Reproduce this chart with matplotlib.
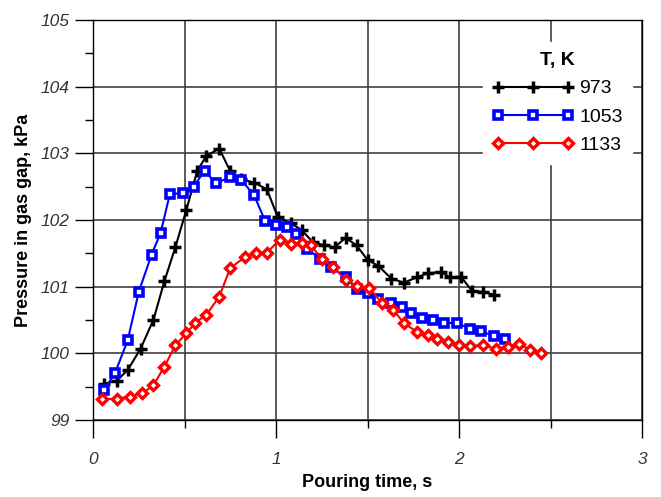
import matplotlib
matplotlib.use('Agg')
import matplotlib.pyplot as plt
import numpy as np

# time, s / pressure, kPa
t_973 = [0.06, 0.13, 0.19, 0.26, 0.33, 0.39, 0.45, 0.51, 0.57, 0.62, 0.69, 0.75,
         0.81, 0.88, 0.95, 1.01, 1.08, 1.14, 1.20, 1.26, 1.32, 1.38, 1.44, 1.50,
         1.56, 1.63, 1.70, 1.77, 1.83, 1.90, 1.95, 2.01, 2.07, 2.13, 2.19]
p_973 = [99.54, 99.59, 99.75, 100.07, 100.50, 101.08, 101.59, 102.15, 102.74, 102.96,
         103.07, 102.73, 102.61, 102.56, 102.46, 102.04, 101.95, 101.85, 101.67, 101.62,
         101.59, 101.73, 101.62, 101.40, 101.31, 101.12, 101.06, 101.14, 101.20, 101.22,
         101.14, 101.15, 100.94, 100.92, 100.88]

t_1053 = [0.06, 0.12, 0.19, 0.25, 0.32, 0.37, 0.42, 0.49, 0.55, 0.61, 0.67, 0.75,
          0.81, 0.88, 0.94, 1.00, 1.06, 1.11, 1.17, 1.24, 1.30, 1.38, 1.44, 1.50,
          1.56, 1.63, 1.69, 1.74, 1.80, 1.86, 1.92, 1.99, 2.06, 2.12, 2.19, 2.25]
p_1053 = [99.45, 99.70, 100.20, 100.92, 101.48, 101.81, 102.39, 102.40, 102.50, 102.74,
          102.55, 102.64, 102.60, 102.37, 101.99, 101.93, 101.90, 101.79, 101.57, 101.42,
          101.29, 101.15, 100.97, 100.91, 100.81, 100.76, 100.70, 100.61, 100.53, 100.50,
          100.46, 100.45, 100.37, 100.33, 100.26, 100.22]

t_1133 = [0.05, 0.13, 0.20, 0.27, 0.33, 0.39, 0.45, 0.51, 0.56, 0.62, 0.69, 0.75,
          0.83, 0.89, 0.95, 1.02, 1.08, 1.14, 1.19, 1.25, 1.31, 1.38, 1.44, 1.51,
          1.58, 1.64, 1.70, 1.77, 1.83, 1.88, 1.94, 2.00, 2.06, 2.13, 2.20, 2.27,
          2.33, 2.39, 2.45]
p_1133 = [99.31, 99.32, 99.35, 99.40, 99.52, 99.80, 100.12, 100.30, 100.46, 100.58,
          100.85, 101.28, 101.44, 101.50, 101.51, 101.70, 101.64, 101.65, 101.62, 101.42,
          101.30, 101.10, 101.01, 100.98, 100.75, 100.65, 100.45, 100.32, 100.27, 100.22,
          100.17, 100.12, 100.11, 100.12, 100.07, 100.10, 100.14, 100.05, 100.00]

x_ticks = [0, 1, 2, 3]
y_ticks = [99, 100, 101, 102, 103, 104, 105]

plt.rcParams['font.family'] = ['Liberation Sans', 'DejaVu Sans']

fig = plt.figure(figsize=(6.61, 4.97), dpi=100)
ax = fig.add_axes([0.1407, 0.155, 0.8306, 0.805])

ax.plot(t_973, p_973, '-', color='black', lw=1.5, marker='+', ms=8.5, mew=2.5,
        label='973', zorder=3)
ax.plot(t_1053, p_1053, '-', color='#0000ff', lw=1.5, marker='s', ms=6.3, mew=2.6,
        mfc='white', mec='#0000ff', label='1053', zorder=4)
ax.plot(t_1133, p_1133, '-', color='#ff0000', lw=1.5, marker='D', ms=4.8, mew=2.4,
        mfc='white', mec='#ff0000', label='1133', zorder=5)

ax.set_xlim(0, 3)
ax.set_ylim(99, 105)
ax.set_xticks(x_ticks)
ax.set_xticks(np.arange(0, 3.01, 0.5), minor=True)
ax.set_yticks(y_ticks)
ax.set_yticks(np.arange(99, 105.01, 0.5), minor=True)
ax.set_xticklabels([str(v) for v in x_ticks], fontstyle='italic', fontsize=12.5, color='#333333')
ax.set_yticklabels([str(v) for v in y_ticks], fontstyle='italic', fontsize=12.5, color='#333333')
ax.tick_params(which='major', direction='out', length=13, width=1)
ax.tick_params(which='minor', direction='out', length=6, width=1)
ax.tick_params(axis='x', which='major', pad=10)
ax.tick_params(axis='y', which='major', pad=4)

ax.grid(True, axis='x', which='both', color='#404040', lw=1.2)
ax.grid(True, axis='y', which='major', color='#404040', lw=1.2)
ax.set_axisbelow(True)
for s in ax.spines.values():
    s.set_color('black')
    s.set_linewidth(1)

ax.set_xlabel('Pouring time, s', fontsize=13, fontweight='bold', labelpad=5)
ax.set_ylabel('Pressure in gas gap, kPa', fontsize=13, fontweight='bold', labelpad=6)

leg = ax.legend(title='T, K', loc='upper right', bbox_to_anchor=(1.0, 0.968),
                numpoints=3, handlelength=4.2, handletextpad=0.25, labelspacing=0.55,
                frameon=True, facecolor='white', edgecolor='white', framealpha=1,
                fancybox=False, fontsize=14, borderpad=0.5,
                title_fontproperties={'weight': 'bold', 'size': 14})
leg.set_zorder(10)

fig.savefig('out.png', dpi=100)
